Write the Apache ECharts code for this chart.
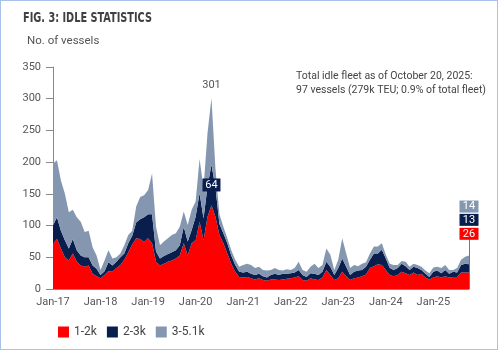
<!DOCTYPE html>
<html>
<head>
<meta charset="utf-8">
<script src="https://cdn.jsdelivr.net/npm/echarts@6/dist/echarts.min.js"></script>
<style>
  html, body { margin: 0; padding: 0; background: #fff; }
  #frame { position: absolute; left: 0; top: 0; width: 498px; height: 350px; border: 1px solid #a9c1ea; box-sizing: border-box; }
  #chart { width: 496px; height: 348px; }
</style>
</head>
<body>
<div id="frame"><div id="chart"></div></div>
<script>
// monthly readings, Jan 2017 .. Oct 2025 (number of idle vessels)
const years = [17, 18, 19, 20, 21, 22, 23, 24, 25];
const monthNames = ["Jan", "Feb", "Mar", "Apr", "May", "Jun", "Jul", "Aug", "Sep", "Oct", "Nov", "Dec"];
const lastMonthIndex = 9; // Oct-25

const small = [ // 1-2k TEU
  71, 79, 64, 50, 45, 56, 43, 37, 35, 37, 24, 20,
  17, 22, 28, 27, 33, 38, 46, 58, 70, 80, 79, 74,
  80, 72, 43, 37, 40, 43, 45, 48, 53, 72, 53, 72,
  77, 106, 77, 114, 132, 114, 85, 72, 56, 40, 27, 19,
  18, 19, 17, 15, 17, 14, 13, 15, 15, 14, 15, 16,
  17, 18, 20, 14, 13, 17, 15, 14, 18, 30, 22, 14,
  17, 27, 20, 14, 17, 18, 20, 23, 33, 36, 39, 38,
  30, 22, 20, 22, 27, 25, 22, 26, 22, 24, 18, 15,
  18, 20, 18, 20, 18, 19, 19, 26, 26, 26
];
const medium = [ // 2-3k TEU
  29, 34, 28, 27, 19, 23, 18, 16, 15, 13, 13, 12,
  5, 6, 14, 10, 10, 12, 10, 14, 14, 25, 31, 39,
  38, 46, 16, 11, 12, 12, 13, 13, 16, 26, 22, 21,
  37, 45, 34, 48, 64, 46, 18, 16, 16, 13, 11, 8,
  8, 8, 7, 7, 7, 6, 5, 7, 9, 8, 9, 8,
  8, 8, 10, 8, 6, 8, 9, 8, 9, 13, 13, 8,
  16, 21, 15, 8, 10, 11, 10, 12, 13, 20, 17, 24,
  18, 11, 10, 11, 13, 11, 8, 9, 11, 6, 6, 4,
  9, 9, 7, 10, 6, 8, 7, 12, 14, 13
];
const large = [ // 3-5.1k TEU
  98, 90, 79, 73, 57, 46, 52, 53, 40, 42, 29, 21,
  8, 17, 19, 11, 7, 6, 13, 13, 8, 25, 35, 35,
  38, 64, 39, 21, 23, 25, 27, 27, 29, 24, 26, 32,
  24, 54, 48, 84, 105, 30, 15, 10, 8, 8, 8, 8,
  12, 13, 14, 11, 11, 10, 11, 8, 9, 8, 5, 7,
  5, 7, 13, 8, 8, 10, 16, 11, 11, 21, 19, 8,
  13, 32, 21, 11, 11, 7, 10, 7, 10, 11, 11, 10,
  6, 7, 8, 5, 4, 7, 5, 5, 5, 5, 5, 6,
  7, 6, 8, 8, 6, 3, 7, 8, 11, 14
];

const seriesNames = ["1-2k", "2-3k", "3-5.1k"];
const colors = ["#fe0000", "#0a1e4e", "#8597b0"];
const peakIndex = 40; // Apr-20

const categories = [];
years.forEach((y, yi) => {
  monthNames.forEach((m, mi) => {
    if (yi === years.length - 1 && mi > lastMonthIndex) return;
    categories.push(m + "-" + y);
  });
});
const last = categories.length - 1;
const peakTotal = small[peakIndex] + medium[peakIndex] + large[peakIndex];

const font = "Roboto, 'Noto Sans', sans-serif";

// title is set in a condensed face; squeeze it to the reference width
const titleText = "FIG. 3: IDLE STATISTICS";
const titleFont = "bold 14px 'DejaVu Sans Condensed', 'DejaVu Sans', sans-serif";
const ctx = document.createElement("canvas").getContext("2d");
ctx.font = titleFont;
const titleScale = 129 / ctx.measureText(titleText).width;

function endBox(value, y, color) {
  return {
    coord: [last, y],
    value: value,
    symbol: "rect",
    symbolSize: [19, 12],
    itemStyle: { color: color },
    label: { show: true, color: "#fff", fontSize: 11, fontFamily: font, formatter: "{c}" },
  };
}

const chart = echarts.init(document.getElementById("chart"));

const option = {
  animation: false,
  graphic: [
    {
      type: "text",
      x: 22,
      y: 10,
      scaleX: titleScale,
      style: { text: titleText, font: titleFont, fill: "#404040", textVerticalAlign: "top" },
    },
  ],
  title: [
    {
      text: "No. of vessels",
      left: 21,
      top: 29,
      textStyle: { fontFamily: font, fontWeight: "normal", fontSize: 11.5, color: "#555" },
    },
    {
      text: "Total idle fleet as of October 20, 2025:\n97 vessels (279k TEU; 0.9% of total fleet)",
      left: 290,
      top: 63,
      textStyle: { fontFamily: font, fontWeight: "normal", fontSize: 10.5, lineHeight: 14, color: "#444" },
    },
  ],
  legend: {
    data: seriesNames,
    left: 52,
    top: 320,
    icon: "rect",
    itemWidth: 11,
    itemHeight: 11,
    itemGap: 10,
    textStyle: { fontFamily: font, fontSize: 12, color: "#444" },
  },
  grid: { left: 52, right: 28, top: 66, bottom: 60 },
  xAxis: {
    type: "category",
    boundaryGap: false,
    data: categories,
    axisLine: { lineStyle: { color: "#888" } },
    axisTick: { show: false },
    axisLabel: {
      interval: (idx) => idx % 12 === 0,
      color: "#555",
      fontFamily: font,
      fontSize: 11,
      margin: 8,
    },
  },
  yAxis: {
    type: "value",
    min: 0,
    max: 350,
    interval: 50,
    axisLine: { show: true, lineStyle: { color: "#888" } },
    axisTick: { show: true, length: 7, lineStyle: { color: "#888" } },
    splitLine: { show: false },
    axisLabel: { color: "#555", fontFamily: font, fontSize: 11, margin: 12 },
  },
  series: [
    {
      name: seriesNames[0],
      type: "line",
      stack: "idle",
      data: small,
      symbol: "none",
      lineStyle: { width: 0 },
      itemStyle: { color: colors[0] },
      areaStyle: { color: colors[0], opacity: 1 },
      markPoint: { data: [endBox(small[last], 87, colors[0])] },
    },
    {
      name: seriesNames[1],
      type: "line",
      stack: "idle",
      data: medium,
      symbol: "none",
      lineStyle: { width: 0 },
      itemStyle: { color: colors[1] },
      areaStyle: { color: colors[1], opacity: 1 },
      markPoint: {
        data: [
          {
            coord: [peakIndex, small[peakIndex] + medium[peakIndex] / 2],
            value: medium[peakIndex],
            symbol: "rect",
            symbolSize: [18, 13],
            itemStyle: { color: colors[1] },
            label: { show: true, color: "#fff", fontSize: 11, fontFamily: font, formatter: "{c}" },
          },
          endBox(medium[last], 109, colors[1]),
        ],
      },
    },
    {
      name: seriesNames[2],
      type: "line",
      stack: "idle",
      data: large,
      symbol: "none",
      lineStyle: { width: 0 },
      itemStyle: { color: colors[2] },
      areaStyle: { color: colors[2], opacity: 1 },
      markPoint: {
        data: [
          {
            coord: [peakIndex, peakTotal],
            value: peakTotal,
            symbol: "circle",
            symbolSize: 0,
            label: { show: true, position: "top", distance: 7, color: "#555", fontSize: 11, fontFamily: font, formatter: "{c}" },
          },
          endBox(large[last], 130, colors[2]),
        ],
      },
      markLine: {
        silent: true,
        symbol: "none",
        label: { show: false },
        lineStyle: { color: "#777", width: 1, type: "solid" },
        data: [[{ coord: [last, 0] }, { coord: [last, 82] }]],
      },
    },
  ],
};

chart.setOption(option);
</script>
</body>
</html>
